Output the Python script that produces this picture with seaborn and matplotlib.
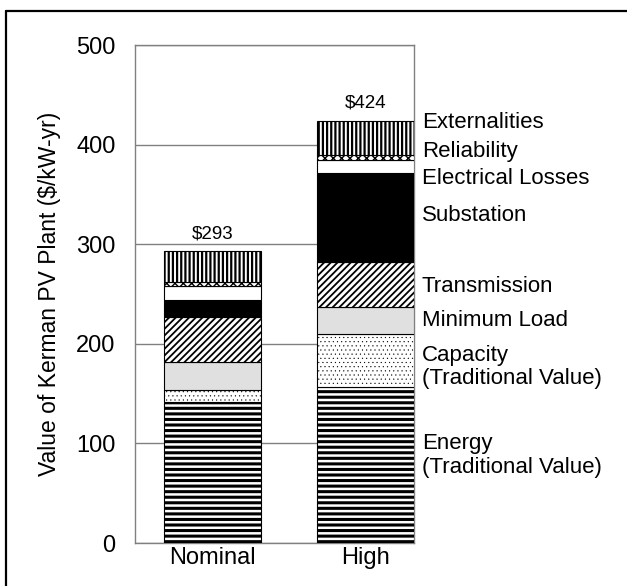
import matplotlib
matplotlib.use("Agg")
import matplotlib.pyplot as plt
import matplotlib.transforms as mtransforms
from matplotlib.lines import Line2D
import seaborn as sns
import numpy as np

# ---------------- data ----------------
scenarios = ["Nominal", "High"]
component_labels = ["Energy\n(Traditional Value)", "Capacity\n(Traditional Value)",
                    "Minimum Load", "Transmission", "Substation",
                    "Electrical Losses", "Reliability", "Externalities"]
energy = [142, 157]
capacity = [12, 53]
minimum_load = [28, 27]
transmission = [45, 45]
substation = [17, 89]
electrical_losses = [14, 14]
reliability = [4, 5]
externalities = [31, 34]
total_labels = ["$293", "$424"]
yticks = [0, 100, 200, 300, 400, 500]

series = [energy, capacity, minimum_load, transmission, substation,
          electrical_losses, reliability, externalities]

# ---------------- style ----------------
styles = [
    dict(fc="white", hatch="---", hlw=2.2, hc="black"),
    dict(fc="white", hatch="....", hlw=0.3, hc="#666666"),
    dict(fc="#e0e0e0", hatch=None, hlw=1.0, hc="black"),
    dict(fc="white", hatch="/////", hlw=1.3, hc="black"),
    dict(fc="black", hatch=None, hlw=1.0, hc="black"),
    dict(fc="white", hatch=None, hlw=1.0, hc="black"),
    dict(fc="white", hatch="xxxx", hlw=1.0, hc="black"),
    dict(fc="white", hatch="||||", hlw=1.6, hc="black"),
]
label_y = [88, 177, 223, 258, 329, 366, 393, 422]

sns.set_theme(style="white")
plt.rcParams["font.family"] = ["Liberation Sans", "DejaVu Sans"]

fig = plt.figure(figsize=(6.27, 5.86), dpi=100)
ax = fig.add_axes([135 / 627, 1 - 543 / 586, (414 - 135) / 627, (543 - 45) / 586])

bar_w = 0.632
bottoms = np.zeros(len(scenarios))
for vals, st in zip(series, styles):
    n_before = len(ax.patches)
    with plt.rc_context({"hatch.linewidth": st["hlw"], "hatch.color": st["hc"]}):
        sns.barplot(x=scenarios, y=vals, bottom=bottoms, color=st["fc"], saturation=1,
                    width=bar_w, edgecolor="black", linewidth=0.8,
                    hatch=st["hatch"], ax=ax, zorder=3)
    for p in ax.patches[n_before:]:
        if hasattr(p, "set_hatch_linewidth"):
            p.set_hatch_linewidth(st["hlw"])
        p.set_facecolor(st["fc"])
    bottoms = bottoms + np.array(vals)

# totals
for i, (tot, lab) in enumerate(zip(bottoms, total_labels)):
    ax.text(i, tot + 9, lab, ha="center", va="bottom", fontsize=13.5, color="black")

# right-hand labels
trans = mtransforms.blended_transform_factory(ax.transAxes, ax.transData)
for lab, y in zip(component_labels, label_y):
    ax.text(1.028, y, lab, transform=trans, ha="left", va="center",
            fontsize=16, color="black", linespacing=1.15)

ax.set_ylim(0, 500)
ax.set_xlim(-0.505, 1 + bar_w / 2)
ax.set_yticks(yticks)
ax.set_yticklabels([str(t) for t in yticks])
ax.yaxis.grid(True, color="#808080", linewidth=1.0, zorder=0)
ax.xaxis.grid(False)
ax.set_axisbelow(True)
ax.tick_params(axis="y", length=0, pad=14, labelsize=17, colors="black")
ax.tick_params(axis="x", length=0, pad=3, labelsize=17, colors="black")
for s in ax.spines.values():
    s.set_color("#808080")
    s.set_linewidth(1.0)
ax.set_ylabel("Value of Kerman PV Plant ($/kW-yr)", fontsize=16.5, color="black", labelpad=11)
ax.set_xlabel("")

# outer frame (top and left visible)
fig.add_artist(Line2D([6 / 627, 6 / 627], [0, 1 - 11 / 586], transform=fig.transFigure,
                      color="black", linewidth=1.6))
fig.add_artist(Line2D([6 / 627, 1], [1 - 11 / 586, 1 - 11 / 586], transform=fig.transFigure,
                      color="black", linewidth=1.6))

fig.savefig("out.png", dpi=100, facecolor="white")
